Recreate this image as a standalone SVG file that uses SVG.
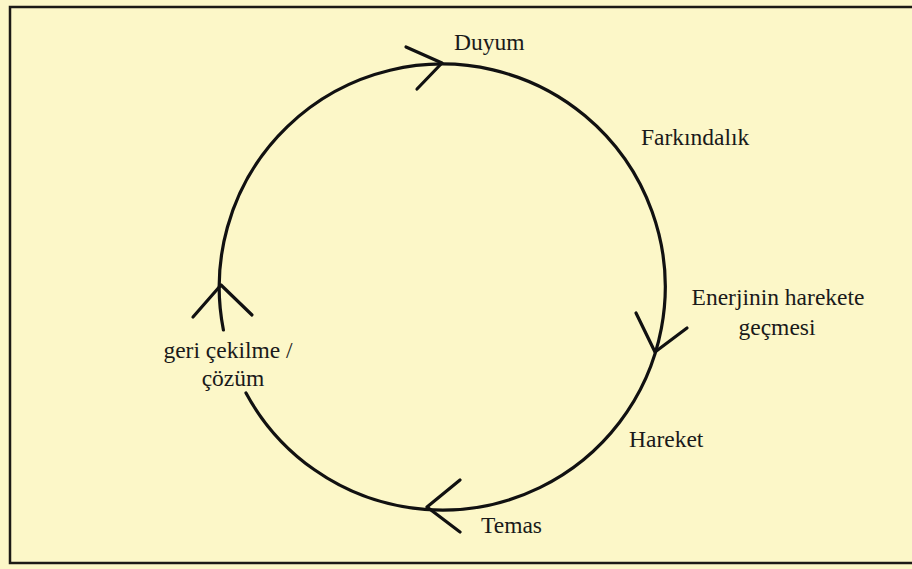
<svg xmlns="http://www.w3.org/2000/svg" width="912" height="569" viewBox="0 0 912 569">
  <style>
    .bg { fill: #fcf7c8; }
    .frame { fill: none; stroke: #1c1a16; stroke-width: 2.5; }
    .cycle { fill: none; stroke: #111; stroke-width: 3.2; stroke-linecap: round; }
    .barb { fill: none; stroke: #111; stroke-width: 3.2; stroke-linecap: round; stroke-linejoin: round; }
    .lbl { font-family: "Liberation Serif", "DejaVu Serif", serif; font-size: 23.5px; fill: #1a1a1a; }
  </style>
  <rect class="bg" x="0" y="0" width="912" height="569"/>
  <path class="frame" d="M 930 7 H 10 V 563 H 930"/>

  <g id="connectors">
    <path class="cycle" d="M 223.4 330 A 223 223 0 1 1 246 393"/>
    <polyline class="barb" points="406,47 442,63 417,89"/>
    <polyline class="barb" points="636,313 655,352 687,328"/>
    <polyline class="barb" points="460,480 427,507 460,532"/>
    <polyline class="barb" points="193,317 221,285 252,315"/>
  </g>

  <g id="node-duyum"><text class="lbl" x="454" y="50">Duyum</text></g>
  <g id="node-farkindalik"><text class="lbl" x="641" y="145">Farkındalık</text></g>
  <g id="node-enerji">
    <text class="lbl" x="778" y="305" text-anchor="middle">Enerjinin harekete</text>
    <text class="lbl" x="777" y="335" text-anchor="middle">geçmesi</text>
  </g>
  <g id="node-hareket"><text class="lbl" x="629" y="447">Hareket</text></g>
  <g id="node-temas"><text class="lbl" x="481" y="533">Temas</text></g>
  <g id="node-geri">
    <text class="lbl" x="228" y="358" text-anchor="middle">geri çekilme /</text>
    <text class="lbl" x="233" y="386" text-anchor="middle">çözüm</text>
  </g>
</svg>
